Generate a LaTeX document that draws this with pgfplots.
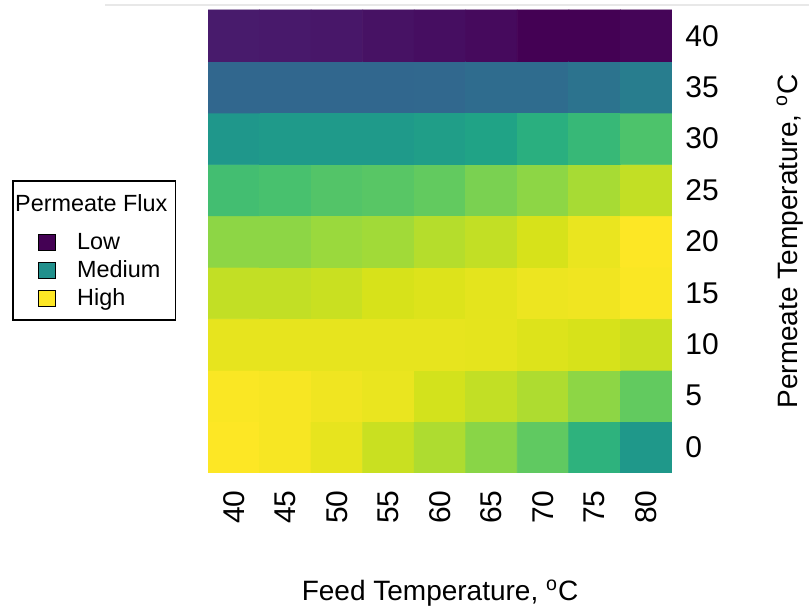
\documentclass[border=0pt]{standalone}
\usepackage{fontspec}
\setmainfont{Liberation Sans}
\usepackage{pgfplots}
\pgfplotsset{compat=1.18}
\definecolor{vlow}{HTML}{440154}
\definecolor{vmed}{HTML}{21908C}
\definecolor{vhigh}{HTML}{FDE725}
\definecolor{toprule}{HTML}{E8E8E8}
\newcommand{\est}{\rule[-3.5pt]{0pt}{14pt}}
\newcommand{\tst}{\rule[-8.5pt]{0pt}{19.7pt}}
\begin{document}
\begin{tikzpicture}
\useasboundingbox (0,0) rectangle (404.5pt,306.5pt);
\draw[toprule, line width=1pt] (52.5pt,304pt) -- (404.5pt,304pt);
\begin{axis}[
  at={(104pt,70pt)}, anchor=south west,
  scale only axis, width=232pt, height=231.5pt,
  xmin=37.5, xmax=82.5, ymin=-2.5, ymax=42.5,
  xtick={40,45,...,80}, ytick={0,5,...,40},
  axis line style={draw=none}, major tick length=0pt,
  colormap/viridis, point meta min=0, point meta max=1,
  yticklabel pos=right,
  /pgf/number format/assume math mode=true,
  tick label style={font=\fontsize{15}{15}\selectfont},
  xticklabel style={yshift=-8.5pt, rotate=90, anchor=east, inner sep=0pt},
  yticklabel style={xshift=6.5pt, anchor=west, inner sep=0pt},
  xlabel={Feed Temperature, \textsuperscript{o}C},
  ylabel={Permeate Temperature, \textsuperscript{o}C},
  every axis x label/.style={at={(rel axis cs:0.5,0)}, yshift=-60pt, anchor=center, font=\fontsize{14}{14}\selectfont},
  every axis y label/.style={at={(rel axis cs:1,0.5)}, xshift=59pt, rotate=90, anchor=center, font=\fontsize{14}{14}\selectfont},
  legend style={at={(rel axis cs:-0.4224,0.6328)}, anchor=north west,
    draw=black, line width=0.8pt, fill=white,
    inner xsep=3pt, inner ysep=4pt, column sep=9.5pt,
    font=\fontsize{11.7}{12}\selectfont,
    cells={anchor=west},
    nodes={inner xsep=1pt, inner ysep=0pt, text height=, text depth=}},
  legend image code/.code={\path (0pt,0pt); \draw[#1] (9.5pt,-4pt) rectangle (18pt,4pt);},
]
\addplot[matrix plot*, mesh/cols=9, mesh/ordering=x varies, point meta=explicit, forget plot]
  table[meta=c]{
x y c
40 0 1.00
45 0 0.99
50 0 0.965
55 0 0.92
60 0 0.88
65 0 0.825
70 0 0.755
75 0 0.645
80 0 0.535
40 5 0.995
45 5 0.99
50 5 0.98
55 5 0.97
60 5 0.935
65 5 0.91
70 5 0.88
75 5 0.83
80 5 0.76
40 10 0.965
45 10 0.965
50 10 0.965
55 10 0.965
60 10 0.965
65 10 0.962
70 10 0.95
75 10 0.94
80 10 0.92
40 15 0.91
45 15 0.91
50 15 0.92
55 15 0.94
60 15 0.95
65 15 0.96
70 15 0.975
75 15 0.98
80 15 0.995
40 20 0.83
45 20 0.83
50 20 0.85
55 20 0.86
60 20 0.89
65 20 0.91
70 20 0.94
75 20 0.97
80 20 1.00
40 25 0.70
45 25 0.71
50 25 0.73
55 25 0.74
60 25 0.76
65 25 0.80
70 25 0.83
75 25 0.87
80 25 0.91
40 30 0.53
45 30 0.54
50 30 0.54
55 30 0.54
60 30 0.56
65 30 0.58
70 30 0.63
75 30 0.67
80 30 0.72
40 35 0.33
45 35 0.33
50 35 0.33
55 35 0.33
60 35 0.335
65 35 0.35
70 35 0.35
75 35 0.38
80 35 0.42
40 40 0.07
45 40 0.065
50 40 0.06
55 40 0.045
60 40 0.035
65 40 0.025
70 40 0.0
75 40 0.0
80 40 0.01
};
\addlegendimage{empty legend}
\addlegendentry{\tst\hspace*{-31pt}Permeate Flux}
\addlegendimage{fill=vlow, draw=black, line width=0.7pt}
\addlegendentry{\est Low}
\addlegendimage{fill=vmed, draw=black, line width=0.7pt}
\addlegendentry{\est Medium}
\addlegendimage{fill=vhigh, draw=black, line width=0.7pt}
\addlegendentry{\est High}
\end{axis}
\end{tikzpicture}
\end{document}
